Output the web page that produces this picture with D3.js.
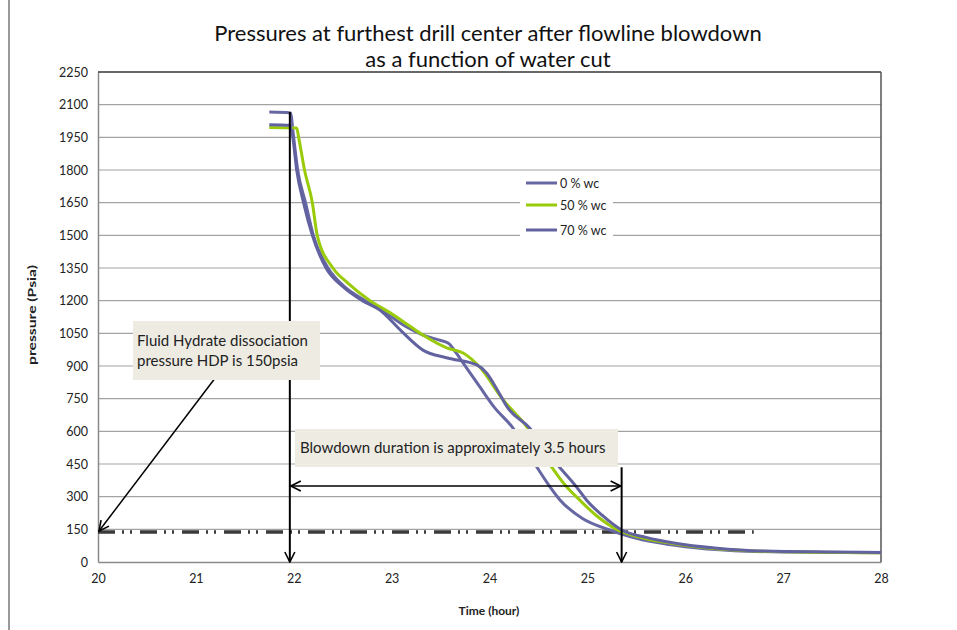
<!DOCTYPE html>
<html><head><meta charset="utf-8">
<script src="https://cdn.jsdelivr.net/npm/d3@7"></script>
<style>body{margin:0;background:#fff;} svg{display:block;font-family:Lato,"Open Sans",sans-serif;}</style>
</head><body>
<svg id="c" width="957" height="630"></svg>
<script>
const titleLines = ["Pressures at furthest drill center after flowline blowdown", "as a function of water cut"];
const xTicks = [20,21,22,23,24,25,26,27,28];
const yTicks = [0,150,300,450,600,750,900,1050,1200,1350,1500,1650,1800,1950,2100,2250];
const seriesNames = ["0 % wc","50 % wc","70 % wc"];
const seriesColors = ["#6767A3","#9ACB0A","#6262A0"];
const wc0 = [[21.75,2066],[21.97,2062],[21.99,1985],[22.04,1800],[22.12,1650],[22.2,1500],[22.35,1350],[22.5,1272],[22.73,1200],[22.95,1140],[23.15,1080],[23.32,1042],[23.48,1020],[23.58,1005],[23.66,960],[23.73,914],[23.9,805],[24.05,710],[24.24,615],[24.45,460],[24.62,344],[24.72,285],[24.95,200],[25.23,147],[25.45,115],[25.7,90],[26.0,70],[26.5,52],[27.0,46],[28.0,43]];
const wc50 = [[21.75,1995],[22.03,1993],[22.05,1950],[22.11,1800],[22.19,1650],[22.24,1500],[22.4,1350],[22.55,1282],[22.78,1200],[23.0,1140],[23.18,1085],[23.32,1042],[23.57,982],[23.73,960],[23.9,895],[24.14,744],[24.39,615],[24.6,460],[24.79,344],[24.92,285],[25.1,210],[25.31,147],[25.55,112],[25.85,86],[26.2,65],[26.7,50],[28.0,42]];
const wc70 = [[21.75,2008],[21.96,2005],[21.99,1950],[22.03,1800],[22.1,1650],[22.19,1500],[22.33,1350],[22.5,1265],[22.7,1200],[22.88,1157],[23.1,1060],[23.32,973],[23.57,937],[23.87,905],[23.97,868],[24.08,790],[24.18,712],[24.41,615],[24.65,470],[24.89,344],[24.99,285],[25.15,215],[25.35,147],[25.6,113],[25.9,86],[26.3,64],[26.8,50],[28.0,44]];
const hdpLevel = 138;
const hdpEnd = 26.7;
const blowStart = 21.96, blowEnd = 25.35;
const note1 = ["Fluid Hydrate dissociation","pressure HDP is 150psia"];
const note2 = "Blowdown duration is approximately 3.5 hours";

const svg = d3.select("#c");
const L=98,R=881,T=72,B=562;
const x = d3.scaleLinear().domain([20,28]).range([L,R]);
const y = d3.scaleLinear().domain([0,2250]).range([B,T]);

svg.append("line").attr("x1",9).attr("x2",9).attr("y1",0).attr("y2",630).attr("stroke","#9a9a9a").attr("stroke-width",2);

// grid
svg.append("g").selectAll("line").data(yTicks.slice(1)).join("line")
  .attr("x1",L).attr("x2",R).attr("y1",d=>y(d)).attr("y2",d=>y(d))
  .attr("stroke","#a3a3a3").attr("stroke-width",1.2);

// axes
const ya = svg.append("g").attr("transform",`translate(${L},0)`).call(d3.axisLeft(y).tickValues(yTicks).tickFormat(d3.format("d")).tickSize(0).tickPadding(10));
ya.select(".domain").attr("stroke","#8a8a8a").attr("stroke-width",1.5);
ya.selectAll("text").attr("font-size",12.5).attr("fill","#222").attr("font-family","Lato,sans-serif");
const xa = svg.append("g").attr("transform",`translate(0,${B})`).call(d3.axisBottom(x).tickValues(xTicks).tickFormat(d3.format("d")).tickSize(0).tickPadding(12));
xa.select(".domain").attr("stroke","#8a8a8a").attr("stroke-width",1.5);
xa.selectAll("text").attr("font-size",12.5).attr("fill","#222").attr("font-family","Lato,sans-serif");
svg.append("line").attr("x1",L).attr("x2",R).attr("y1",T).attr("y2",T).attr("stroke","#444").attr("stroke-width",1.5);
svg.append("line").attr("x1",R).attr("x2",R).attr("y1",T).attr("y2",B).attr("stroke","#555").attr("stroke-width",1.5);

// HDP dash-dot line
svg.append("line").attr("x1",x(20)).attr("x2",x(hdpEnd)).attr("y1",y(hdpLevel)).attr("y2",y(hdpLevel))
  .attr("stroke","#3a3a3a").attr("stroke-width",3.5).attr("stroke-dasharray","17,7,2,6,2,8");

// series
const line = d3.line().x(d=>x(d[0])).y(d=>y(d[1])).curve(d3.curveMonotoneX);
[wc0,wc50,wc70].forEach((s,i)=>{
  svg.append("path").datum(s).attr("d",line).attr("fill","none")
    .attr("stroke",seriesColors[i]).attr("stroke-width",3).attr("stroke-linejoin","round");
});

// arrow markers
const defs = svg.append("defs");
defs.append("marker").attr("id","arr").attr("viewBox","0 0 12 12").attr("refX",11).attr("refY",6)
  .attr("markerWidth",12).attr("markerHeight",12).attr("markerUnits","userSpaceOnUse").attr("orient","auto-start-reverse")
  .append("path").attr("d","M1,1 L11,6 L1,11").attr("fill","none").attr("stroke","#000").attr("stroke-width",1.6);

// vertical arrows
svg.append("line").attr("x1",x(blowStart)).attr("x2",x(blowStart)).attr("y1",y(2066)).attr("y2",B)
  .attr("stroke","#000").attr("stroke-width",2).attr("marker-end","url(#arr)");
svg.append("line").attr("x1",x(blowEnd)).attr("x2",x(blowEnd)).attr("y1",y(435)).attr("y2",B)
  .attr("stroke","#000").attr("stroke-width",2).attr("marker-end","url(#arr)");
// horizontal double arrow
svg.append("line").attr("x1",x(blowStart)+1).attr("x2",x(blowEnd)-1).attr("y1",y(349)).attr("y2",y(349))
  .attr("stroke","#000").attr("stroke-width",1.6).attr("marker-start","url(#arr)").attr("marker-end","url(#arr)");
// diagonal arrow
svg.append("line").attr("x1",222).attr("x2",x(20)+1).attr("y1",369).attr("y2",y(142))
  .attr("stroke","#000").attr("stroke-width",1.5).attr("marker-end","url(#arr)");

// annotation boxes
svg.append("rect").attr("x",133).attr("y",321).attr("width",187).attr("height",59).attr("fill","#EDEBE2");
svg.append("text").attr("x",137).attr("y",346).attr("font-size",15).attr("fill","#222").text(note1[0]);
svg.append("text").attr("x",137).attr("y",366).attr("font-size",15).attr("fill","#222").text(note1[1]);
svg.append("rect").attr("x",295).attr("y",429).attr("width",323).attr("height",38).attr("fill","#EDEBE2");
svg.append("text").attr("x",300).attr("y",453).attr("font-size",15).attr("fill","#222").text(note2);

// legend
const lg = svg.append("g");
lg.append("rect").attr("x",520).attr("y",172).attr("width",93).attr("height",68).attr("fill","#fff");
seriesNames.forEach((n,i)=>{
  const yy = [183,205,230][i];
  lg.append("line").attr("x1",526).attr("x2",557).attr("y1",yy).attr("y2",yy).attr("stroke",seriesColors[i]).attr("stroke-width",3);
  lg.append("text").attr("x",560).attr("y",yy+4.5).attr("font-size",12.5).attr("fill","#222").text(n);
});

// title
svg.append("text").attr("x",488).attr("y",41).attr("text-anchor","middle").attr("font-size",22).attr("fill","#111").text(titleLines[0]);
svg.append("text").attr("x",488).attr("y",67).attr("text-anchor","middle").attr("font-size",22).attr("fill","#111").text(titleLines[1]);

// axis titles
svg.append("text").attr("transform","translate(36,315) rotate(-90)").attr("text-anchor","middle").attr("font-size",10.5).attr("font-weight","bold").attr("fill","#222")
  .attr("textLength",100).attr("lengthAdjust","spacingAndGlyphs").text("pressure (Psia)");
svg.append("text").attr("x",489).attr("y",615).attr("text-anchor","middle").attr("font-size",12).attr("font-weight","bold").attr("fill","#222").text("Time (hour)");
</script>
</body></html>
